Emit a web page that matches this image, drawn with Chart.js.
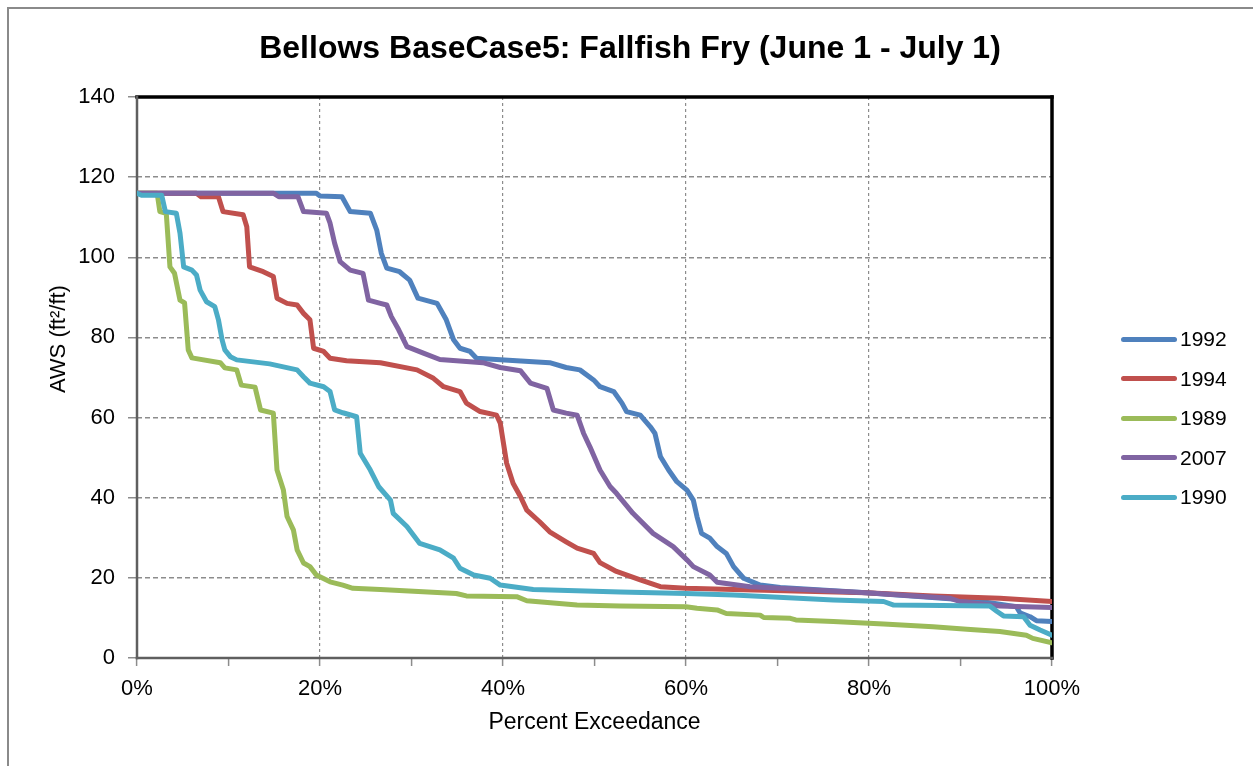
<!DOCTYPE html>
<html>
<head>
<meta charset="utf-8">
<script src="https://cdn.jsdelivr.net/npm/chart.js@4"></script>
<style>
  body { margin: 0; background: #fff; }
  #wrap { position: relative; width: 1253px; height: 766px; overflow: hidden; background: #fff;
          font-family: "Liberation Sans", Arial, sans-serif; color: #000; }
  #frame { position: absolute; left: 7px; top: 7px; width: 1300px; height: 800px;
           border-left: 2px solid #8a8a8a; border-top: 2px solid #8a8a8a; }
  #c { position: absolute; left: 0; top: 0; }
  #title { position: absolute; left: 7px; width: 1246px; top: 27px; height: 40px; line-height: 40px;
           text-align: center; font-weight: bold; font-size: 32px; }
  #ytitle { position: absolute; left: 58px; top: 339px; transform: translate(-50%, -50%) rotate(-90deg);
            white-space: nowrap; font-size: 22px; }
  .leg-line { position: absolute; left: 1121px; width: 56px; height: 5px; border-radius: 3px; }
  .leg-text { position: absolute; left: 1180px; font-size: 21px; line-height: 24px; }
</style>
</head>
<body>
<div id="wrap">
  <div id="frame"></div>
  <canvas id="c" width="1253" height="766"></canvas>
  <div id="title">Bellows BaseCase5: Fallfish Fry (June 1 - July 1)</div>
  <div id="ytitle">AWS (ft²/ft)</div>
  <div id="legend"></div>
</div>
<script>
// series names and colours, in legend order
const seriesNames = ["1992", "1994", "1989", "2007", "1990"];
const seriesColors = ["#4F81BD", "#C0504D", "#9BBB59", "#8064A2", "#4BACC6"];

// percent exceedance / AWS values
const pct1992 = [0, 19.6, 20.0, 22.4, 23.3, 25.5, 26.2, 26.7, 27.3, 28.7, 29.8, 30.7, 32.8, 33.8, 34.6, 35.3, 36.4, 37.1, 39.7, 45.1, 46.9, 48.4, 49.9, 50.6, 52.1, 53.0, 53.5, 55.0, 56.1, 56.6, 57.2, 58.1, 59.0, 60.1, 60.8, 61.2, 61.7, 62.6, 63.4, 64.4, 65.2, 66.3, 68.1, 70.3, 79.7, 90.7, 93.2, 96.1, 96.5, 97.6, 98.3, 100];
const aws1992 = [116, 116, 115.3, 115.1, 111.4, 111, 106.8, 101, 97.3, 96.4, 94.3, 89.8, 88.5, 84.4, 79.4, 77.3, 76.5, 74.8, 74.4, 73.7, 72.5, 71.9, 69.4, 67.7, 66.5, 63.6, 61.5, 60.6, 57.7, 56.1, 50.3, 46.9, 44.0, 41.9, 39.4, 35.3, 31.1, 29.9, 27.8, 26.1, 22.8, 19.9, 18.2, 17.6, 16.3, 14.5, 13.8, 12.8, 11.3, 10.3, 9.3, 9.1];

const pct1994 = [0, 6.5, 7.0, 8.9, 9.4, 11.6, 12.0, 12.3, 13.8, 14.9, 15.3, 16.4, 17.5, 18.2, 18.9, 19.3, 20.4, 21.1, 22.9, 26.6, 30.6, 32.4, 33.5, 35.3, 36.0, 37.5, 39.3, 39.7, 40.4, 41.1, 41.9, 42.6, 44.0, 45.1, 46.9, 48.1, 49.9, 50.6, 52.4, 55.0, 57.2, 60.0, 65.2, 79.7, 87.0, 94.3, 100];
const aws1994 = [116, 116, 115.1, 115.1, 111.4, 110.6, 107.6, 97.6, 96.4, 95.2, 89.8, 88.5, 88.1, 86.0, 84.4, 77.3, 76.5, 74.8, 74.2, 73.7, 71.9, 69.8, 67.7, 66.5, 63.6, 61.5, 60.6, 58.6, 48.6, 43.6, 40.3, 36.9, 34.0, 31.5, 29.0, 27.4, 26.1, 23.8, 21.6, 19.5, 17.8, 17.4, 17.1, 16.3, 15.5, 14.9, 14.1];

const pct1989 = [0, 2.2, 2.5, 3.2, 3.6, 4.1, 4.7, 5.2, 5.6, 6.0, 9.1, 9.6, 10.9, 11.4, 12.9, 13.5, 14.9, 15.3, 16.0, 16.4, 17.1, 17.5, 18.2, 18.9, 19.6, 21.1, 22.5, 23.6, 26.6, 34.9, 36.0, 41.5, 42.6, 48.1, 52.8, 60.0, 61.2, 63.4, 64.4, 68.1, 68.5, 71.4, 72.0, 76.1, 81.6, 87.0, 90.7, 94.3, 97.2, 97.9, 100];
const aws1989 = [116, 116, 111.4, 111.0, 97.6, 96.0, 89.3, 88.6, 76.9, 74.9, 73.7, 72.4, 71.9, 68.1, 67.6, 61.9, 61.1, 46.9, 41.9, 35.3, 31.9, 27.0, 23.7, 22.8, 20.7, 19.0, 18.2, 17.4, 17.1, 16.1, 15.5, 15.3, 14.3, 13.2, 13.0, 12.8, 12.4, 12.0, 11.1, 10.7, 10.1, 9.9, 9.5, 9.1, 8.5, 7.8, 7.2, 6.6, 5.7, 4.9, 3.8];

const pct2007 = [0, 14.9, 15.5, 17.6, 18.2, 20.7, 21.1, 21.6, 22.2, 23.3, 24.7, 25.3, 26.6, 27.3, 27.8, 28.6, 29.5, 31.3, 33.1, 37.8, 39.7, 41.9, 43.0, 44.8, 45.5, 46.9, 48.1, 48.8, 49.5, 50.6, 51.7, 52.4, 54.2, 56.4, 58.6, 60.1, 60.8, 62.6, 63.4, 67.0, 79.7, 88.9, 89.9, 94.3, 100];
const aws2007 = [116, 116, 115.1, 115.1, 111.4, 111.0, 108.5, 103.5, 98.9, 96.8, 96.0, 89.3, 88.5, 88.1, 85.2, 81.9, 77.7, 76.1, 74.5, 73.7, 72.5, 71.7, 68.6, 67.3, 61.9, 61.1, 60.6, 56.1, 52.7, 46.9, 42.8, 41.1, 36.1, 31.1, 27.8, 24.5, 22.8, 20.7, 18.9, 17.8, 16.3, 14.9, 14.1, 13.0, 12.6];

const pct1990 = [0, 0.5, 2.7, 3.1, 4.3, 4.7, 5.1, 6.0, 6.5, 6.9, 7.6, 8.5, 8.9, 9.3, 9.6, 10.2, 10.9, 14.5, 17.5, 18.2, 18.9, 20.4, 21.1, 21.6, 22.5, 24.0, 24.4, 25.5, 26.4, 27.7, 28.0, 29.5, 30.9, 33.1, 34.6, 35.3, 36.8, 38.6, 39.7, 43.3, 52.8, 60.0, 65.2, 76.1, 81.6, 82.7, 93.2, 94.0, 94.7, 96.9, 97.6, 98.7, 100];
const aws1990 = [116, 115.5, 115.5, 111.4, 111.0, 106.0, 97.6, 96.8, 95.6, 91.8, 88.9, 87.7, 84.4, 79.4, 76.9, 75.2, 74.4, 73.4, 71.9, 70.2, 68.6, 67.7, 66.5, 61.9, 61.2, 60.2, 51.1, 46.9, 42.8, 39.4, 36.1, 32.8, 28.6, 27.0, 24.9, 22.4, 20.7, 19.9, 18.2, 17.1, 16.5, 16.1, 15.7, 14.5, 14.1, 13.2, 13.0, 11.6, 10.5, 10.3, 8.2, 7.0, 5.7];

const allPct = [pct1992, pct1994, pct1989, pct2007, pct1990];
const allAws = [aws1992, aws1994, aws1989, aws2007, aws1990];

// axis ranges / ticks
const xMin = 0, xMax = 100, xStep = 10, xLabelEvery = 20;
const yMin = 0, yMax = 140, yStep = 20;

const datasets = seriesNames.map((name, i) => ({
    label: name,
    data: allPct[i].map((p, j) => ({x: p, y: allAws[i][j]})),
    borderColor: seriesColors[i],
    backgroundColor: seriesColors[i],
    borderWidth: 5,
    pointRadius: 0,
    tension: 0,
    borderJoinStyle: "round",
    borderCapStyle: "round",
    order: seriesNames.length - i   // later series drawn on top, like Excel
}));

// plot area outline: black top/right, dark grey axes
const plotFrame = {
    id: "plotFrame",
    beforeDatasetsDraw(chart) {
        const {ctx, chartArea: a} = chart;
        const seg = (x1, y1, x2, y2) => { ctx.beginPath(); ctx.moveTo(x1, y1); ctx.lineTo(x2, y2); ctx.stroke(); };
        ctx.save();
        ctx.lineCap = "square";
        ctx.strokeStyle = "#000";
        ctx.lineWidth = 3.5;
        seg(a.left, a.top, a.right, a.top);
        seg(a.right, a.top, a.right, a.bottom);
        ctx.strokeStyle = "#5f5f5f";
        ctx.lineWidth = 2.5;
        seg(a.left, a.top, a.left, a.bottom);
        seg(a.left, a.bottom, a.right, a.bottom);
        ctx.restore();
    }
};

Chart.defaults.font.family = "'Liberation Sans', Arial, sans-serif";
Chart.defaults.color = "#000";

new Chart(document.getElementById("c"), {
    type: "line",
    data: { datasets: datasets },
    options: {
        responsive: false,
        animation: false,
        devicePixelRatio: 1,
        layout: { padding: { left: 20, top: 97, right: 201, bottom: 20 } },
        plugins: { legend: { display: false }, title: { display: false }, tooltip: { enabled: false } },
        scales: {
            x: {
                type: "linear",
                min: xMin, max: xMax,
                afterFit: (s) => { s.height = 88; },
                ticks: {
                    stepSize: xStep,
                    autoSkip: false,
                    maxRotation: 0,
                    padding: 10,
                    font: { size: 22 },
                    callback: (v) => (v % xLabelEvery === 0 ? v + "%" : "")
                },
                grid: {
                    color: (c) => (c.tick && c.tick.value % xLabelEvery === 0 && c.tick.value > xMin && c.tick.value < xMax) ? "#8c8c8c" : "rgba(0,0,0,0)",
                    lineWidth: 1.2,
                    tickColor: "#8c8c8c",
                    tickLength: 8,
                    tickWidth: 1.5
                },
                border: { display: false, dash: [3, 3] },
                title: {
                    display: true,
                    text: "Percent Exceedance",
                    font: { size: 23 },
                    padding: { top: 0, bottom: 10 }
                }
            },
            y: {
                min: yMin, max: yMax,
                afterFit: (s) => { s.width = 117; },
                ticks: { stepSize: yStep, padding: 13, font: { size: 22 } },
                grid: {
                    color: (c) => (c.tick && c.tick.value > yMin && c.tick.value < yMax) ? "#8c8c8c" : "rgba(0,0,0,0)",
                    lineWidth: 1.5,
                    tickColor: "#8c8c8c",
                    tickLength: 9,
                    tickWidth: 1.5
                },
                border: { display: false, dash: [5, 3] }
            }
        }
    },
    plugins: [plotFrame]
});

// legend, built from the same series names/colours
const legend = document.getElementById("legend");
seriesNames.forEach((name, i) => {
    const cy = 339 + i * 39.5;
    const line = document.createElement("div");
    line.className = "leg-line";
    line.style.top = (cy - 2.5) + "px";
    line.style.background = seriesColors[i];
    const txt = document.createElement("div");
    txt.className = "leg-text";
    txt.style.top = (cy - 12) + "px";
    txt.textContent = name;
    legend.appendChild(line);
    legend.appendChild(txt);
});
</script>
</body>
</html>
